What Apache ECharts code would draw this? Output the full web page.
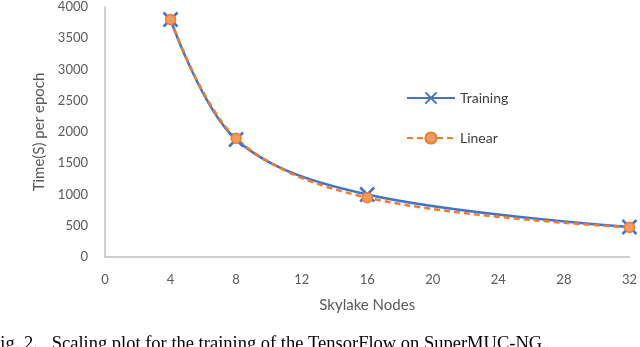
<!DOCTYPE html>
<html>
<head>
<meta charset="utf-8">
<script src="https://cdn.jsdelivr.net/npm/echarts@6/dist/echarts.min.js"></script>
<style>
  html, body { margin: 0; padding: 0; background: #fff; }
  #chart { width: 640px; height: 347px; }
</style>
</head>
<body>
<div id="chart"></div>
<script>
// 节点数与每个 epoch 的耗时
const nodes = [4, 8, 16, 32];
const trainingTimes = [3800, 1880, 1000, 480];
const linearTimes = [3800, 1900, 950, 475];
const xTicks = { min: 0, max: 32, step: 4 };
const yTicks = { min: 0, max: 4000, step: 500 };

const chart = echarts.init(document.getElementById('chart'));

const toPairs = (xs, ys) => xs.map((x, i) => [x, ys[i]]);

const labelFont = 'Lato, "Open Sans", sans-serif';

const option = {
  animation: false,
  backgroundColor: '#fff',
  grid: { left: 105, right: 8, top: 7, bottom: 90 },
  legend: {
    orient: 'vertical',
    left: 401,
    top: 86,
    itemWidth: 48,
    itemHeight: 14,
    itemGap: 26,
    textStyle: { color: '#404040', fontSize: 14, fontFamily: labelFont },
    data: ['Training', 'Linear']
  },
  xAxis: {
    type: 'value',
    min: xTicks.min,
    max: xTicks.max,
    interval: xTicks.step,
    name: 'Skylake Nodes',
    nameLocation: 'middle',
    nameGap: 41,
    nameTextStyle: { color: '#595959', fontSize: 15, fontFamily: labelFont },
    axisLine: { lineStyle: { color: '#BFBFBF', width: 1.5 } },
    axisTick: { show: false },
    splitLine: { show: false },
    axisLabel: { color: '#595959', fontSize: 13, margin: 16, fontFamily: labelFont }
  },
  yAxis: {
    type: 'value',
    min: yTicks.min,
    max: yTicks.max,
    interval: yTicks.step,
    name: 'Time(S) per epoch',
    nameLocation: 'middle',
    nameRotate: 90,
    nameGap: 56,
    nameTextStyle: { color: '#595959', fontSize: 15, fontFamily: labelFont },
    axisLine: { show: true, lineStyle: { color: '#BFBFBF', width: 1.5 } },
    axisTick: { show: false },
    splitLine: { show: false },
    axisLabel: {
      color: '#595959', fontSize: 13, margin: 17, fontFamily: labelFont,
      formatter: (v) => String(v)
    }
  },
  graphic: [{
    type: 'text',
    left: -10,
    top: 335,
    style: {
      text: 'Fig. 2.   Scaling plot for the training of the TensorFlow on SuperMUC-NG.',
      fill: '#000',
      font: '18.5px "Liberation Serif", serif'
    }
  }],
  series: [
    {
      name: 'Training',
      type: 'line',
      smooth: 0.35,
      data: toPairs(nodes, trainingTimes),
      symbol: 'path://M0,0L10,10M10,0L0,10',
      symbolSize: 14,
      lineStyle: { color: '#4472C4', width: 2.5 },
      itemStyle: { color: '#4472C4', borderColor: '#4472C4', borderWidth: 2.5 }
    },
    {
      name: 'Linear',
      type: 'line',
      smooth: 0.35,
      data: toPairs(nodes, linearTimes),
      symbol: 'circle',
      symbolSize: 10,
      lineStyle: { color: '#ED7D31', width: 2.5, type: [6, 4] },
      itemStyle: { color: '#F29A60', borderColor: '#ED7D31', borderWidth: 1.5 }
    }
  ]
};

chart.setOption(option);
</script>
</body>
</html>
